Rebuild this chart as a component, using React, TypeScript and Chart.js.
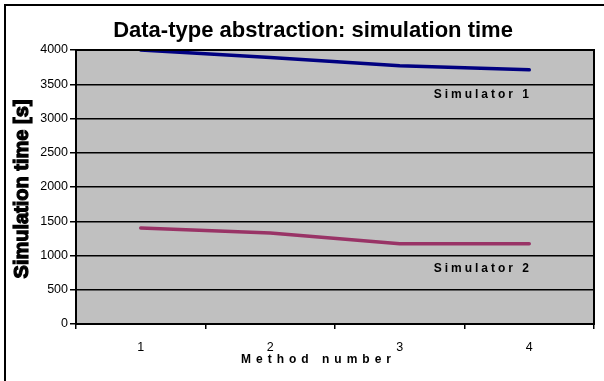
import React, { useEffect, useRef } from "react";
import { Chart, registerables } from "chart.js";

Chart.register(...registerables);

const categories = ["1", "2", "3", "4"];
const simulator1 = [4000, 3890, 3770, 3710];
const simulator2 = [1400, 1330, 1170, 1170];
const seriesNames = ["Simulator 1", "Simulator 2"];
const titleText = "Data-type abstraction: simulation time";
const xTitle = "Method number";
const yTitle = "Simulation time [s]";

const FONT = "'Liberation Sans', Arial, sans-serif";

const decorPlugin = {
  id: "decor",
  beforeDraw(chart: any) {
    const { ctx, chartArea: a, width, height } = chart;
    ctx.save();
    ctx.fillStyle = "#ffffff";
    ctx.fillRect(0, 0, width, height);
    ctx.fillStyle = "#c0c0c0";
    ctx.fillRect(a.left, a.top, a.right - a.left, a.bottom - a.top);
    ctx.strokeStyle = "#000";
    ctx.lineWidth = 2;
    ctx.strokeRect(5, 5, width + 50, height + 50);
    ctx.restore();
  },
  afterDraw(chart: any) {
    const { ctx, chartArea: a, scales } = chart;
    ctx.save();
    ctx.strokeStyle = "#000";
    ctx.lineWidth = 2;
    ctx.strokeRect(a.left, a.top, a.right - a.left, a.bottom - a.top);
    ctx.fillStyle = "#000";
    ctx.font = `bold 22px ${FONT}`;
    ctx.textAlign = "center";
    ctx.textBaseline = "alphabetic";
    ctx.fillText(titleText, 313, 37);
    // y title (heavy)
    ctx.save();
    ctx.translate(22, 189);
    ctx.rotate(-Math.PI / 2);
    ctx.font = `bold 20px ${FONT}`;
    ctx.textAlign = "center";
    ctx.textBaseline = "middle";
    ctx.lineWidth = 1.2;
    ctx.strokeStyle = "#000";
    ctx.fillText(yTitle, 0, 0);
    ctx.strokeText(yTitle, 0, 0);
    ctx.restore();
    const drawSpaced = (t: string, x: number, y: number, sp: number, font: string) => {
      ctx.font = font;
      (ctx as any).letterSpacing = sp + "px";
      ctx.textAlign = "center";
      ctx.textBaseline = "middle";
      ctx.fillText(t, x + sp / 2, y);
      (ctx as any).letterSpacing = "0px";
    };
    drawSpaced(xTitle, 316, 360, 5, `bold 12px ${FONT}`);
    const xs = scales.x;
    const ys = scales.y;
    drawSpaced(seriesNames[0], xs.getPixelForValue(2.63), ys.getPixelForValue(3350), 3, `bold 12px ${FONT}`);
    drawSpaced(seriesNames[1], xs.getPixelForValue(2.63), ys.getPixelForValue(810), 3, `bold 12px ${FONT}`);
    ctx.restore();
  },
};

export default function App() {
  const ref = useRef<HTMLCanvasElement>(null);
  useEffect(() => {
    if (!ref.current) return;
    const chart = new Chart(ref.current, {
      type: "line",
      data: {
        labels: categories,
        datasets: [
          {
            label: seriesNames[0],
            data: simulator1,
            borderColor: "#000080",
            backgroundColor: "#000080",
            borderWidth: 3.5,
            pointRadius: 0,
            tension: 0,
            borderCapStyle: "round",
            borderJoinStyle: "round",
          },
          {
            label: seriesNames[1],
            data: simulator2,
            borderColor: "#993366",
            backgroundColor: "#993366",
            borderWidth: 3.5,
            pointRadius: 0,
            tension: 0,
            borderCapStyle: "round",
            borderJoinStyle: "round",
          },
        ],
      },
      options: {
        animation: false,
        responsive: false,
        devicePixelRatio: 1,
        layout: { padding: { top: 50, left: 0, right: 10, bottom: 0 } },
        plugins: {
          legend: { display: false },
          title: { display: false },
          tooltip: { enabled: false },
        },
        scales: {
          x: {
            offset: true,
            grid: {
              offset: true,
              drawOnChartArea: false,
              drawTicks: true,
              tickLength: 5,
              color: "#000",
              lineWidth: 1.5,
            },
            border: { display: true, color: "#000", width: 2 },
            ticks: { color: "#000", font: { family: FONT, size: 12.5 }, padding: 11 },
            afterFit: (s: any) => {
              s.height = 57;
            },
          },
          y: {
            min: 0,
            max: 4000,
            ticks: {
              stepSize: 500,
              color: "#000",
              font: { family: FONT, size: 12.5 },
              padding: 2,
              callback: (v: any) => String(v),
            },
            grid: { color: "#000", lineWidth: 1.5, tickLength: 6 },
            border: { display: true, color: "#000", width: 2 },
            afterFit: (s: any) => {
              s.width = 76;
            },
          },
        },
      },
      plugins: [decorPlugin],
    } as any);
    return () => chart.destroy();
  }, []);
  return (
    <div style={{ position: "fixed", left: 0, top: 0, width: 604, height: 381 }}>
      <canvas ref={ref} width={604} height={381} style={{ display: "block" }} />
    </div>
  );
}
